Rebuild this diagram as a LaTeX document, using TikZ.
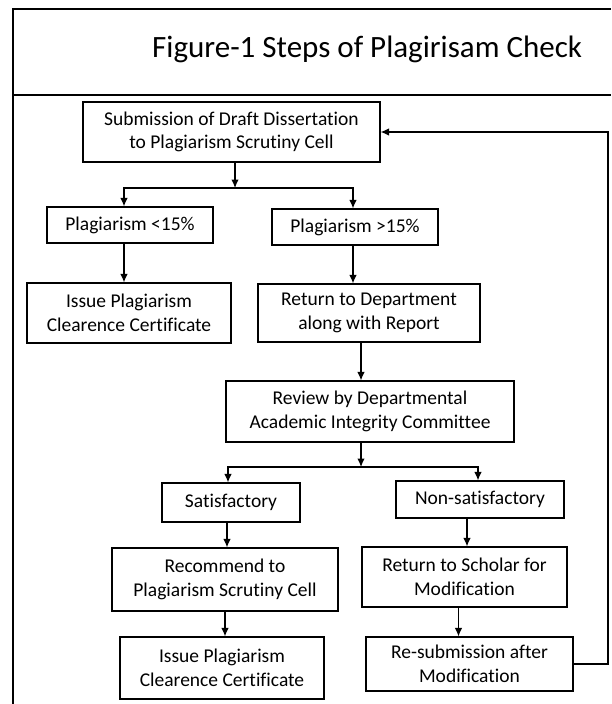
\documentclass[tikz,border=0pt]{standalone}
\usepackage{fontspec}
\setmainfont{Carlito}[Ligatures=NoCommon]
\usetikzlibrary{positioning,calc,arrows.meta}

\begin{document}
\begin{tikzpicture}[x=1pt, y=-1pt,
  stepbox/.style={draw=black, line width=1.2pt, fill=white, inner sep=2pt, align=center, font=\fontsize{19.5}{23.5}\selectfont},
  parrow/.style={-{Latex[length=8.5pt,width=7.5pt]}, line width=1.2pt},
  framerule/.style={line width=1.8pt},
]
\useasboundingbox (0,0) rectangle (611,704);

% Outer frame with title strip
\draw[framerule] (13,704) -- (13,9) -- (611,9);
\draw[framerule] (13,95) -- (611,95);
\node[anchor=base west, inner sep=0pt, font=\fontsize{31}{37}\selectfont] (title) at (152,57) {Figure-1 Steps of Plagirisam Check};

% Top of the flow
\node[stepbox, minimum width=297pt, minimum height=60pt] (sub) at (231.5,132) {Submission of Draft Dissertation\\to Plagiarism Scrutiny Cell};
\node[stepbox, minimum width=166pt, minimum height=36pt] (low)  at (130,225) {Plagiarism <15\%};
\node[stepbox, minimum width=166pt, minimum height=36pt] (high) at (355,227) {Plagiarism >15\%};
\node[stepbox, minimum width=204pt, minimum height=60pt] (issuea) at (129,313) {Issue Plagiarism\\Clearence Certificate};
\node[stepbox, minimum width=222pt, minimum height=58pt] (retdep) at (369,313) {Return to Department\\along with Report};

% Committee review
\node[stepbox, minimum width=288pt, minimum height=61pt] (review) at (370,411.5) {Review by Departmental\\Academic Integrity Committee};
\node[stepbox, minimum width=138pt, minimum height=39pt] (sat)    at (231,502.5) {Satisfactory};
\node[stepbox, minimum width=168pt, minimum height=37pt] (nonsat) at (480,499.5) {Non-satisfactory};
\node[stepbox, minimum width=226pt, minimum height=63pt] (recom)  at (225,579.5) {Recommend to\\Plagiarism Scrutiny Cell};
\node[stepbox, minimum width=205pt, minimum height=60pt] (retsch) at (464.5,577) {Return to Scholar for\\Modification};
\node[stepbox, minimum width=204pt, minimum height=62pt] (issueb) at (222,668) {Issue Plagiarism\\Clearence Certificate};
\node[stepbox, minimum width=207pt, minimum height=54pt] (resub)  at (469.5,664) {Re-submission after\\Modification};

% First split
\coordinate (fork1) at (235,188);
\draw[parrow] (sub.south -| fork1) -- (fork1);
\draw[parrow] (fork1) -| ([xshift=-6pt]low.north);
\draw[parrow] (fork1) -| ([xshift=-2pt]high.north);
\draw[parrow] ([xshift=-6pt]low.south) -- ([xshift=-6pt]low.south |- issuea.north);
\draw[parrow] ([xshift=-2pt]high.south) -- ([xshift=-2pt]high.south |- retdep.north);
\draw[parrow] ([xshift=-8pt]retdep.south) -- ([xshift=-8pt]retdep.south |- review.north);

% Second split
\coordinate (fork2) at (361,467);
\coordinate (drop) at (467,0);
\draw[parrow] (review.south -| fork2) -- (fork2);
\draw[parrow] (fork2) -| ([xshift=-3pt]sat.north);
\draw[parrow] (fork2) -| ([xshift=-2pt]nonsat.north);
\draw[parrow] ([xshift=-4pt]sat.south) -- ([xshift=-4pt]sat.south |- recom.north);
\draw[parrow] (recom.south) -- (recom.south |- issueb.north);
\draw[parrow] (nonsat.south -| drop) -- (retsch.north -| drop);
\draw[parrow] ([xshift=-6pt]retsch.south) -- ([xshift=-6pt]retsch.south |- resub.north);

% Loop back to submission
\coordinate (back) at (608,0);
\draw[parrow] (resub.east) -- (resub.east -| back) |- (sub.east);
\end{tikzpicture}
\end{document}
